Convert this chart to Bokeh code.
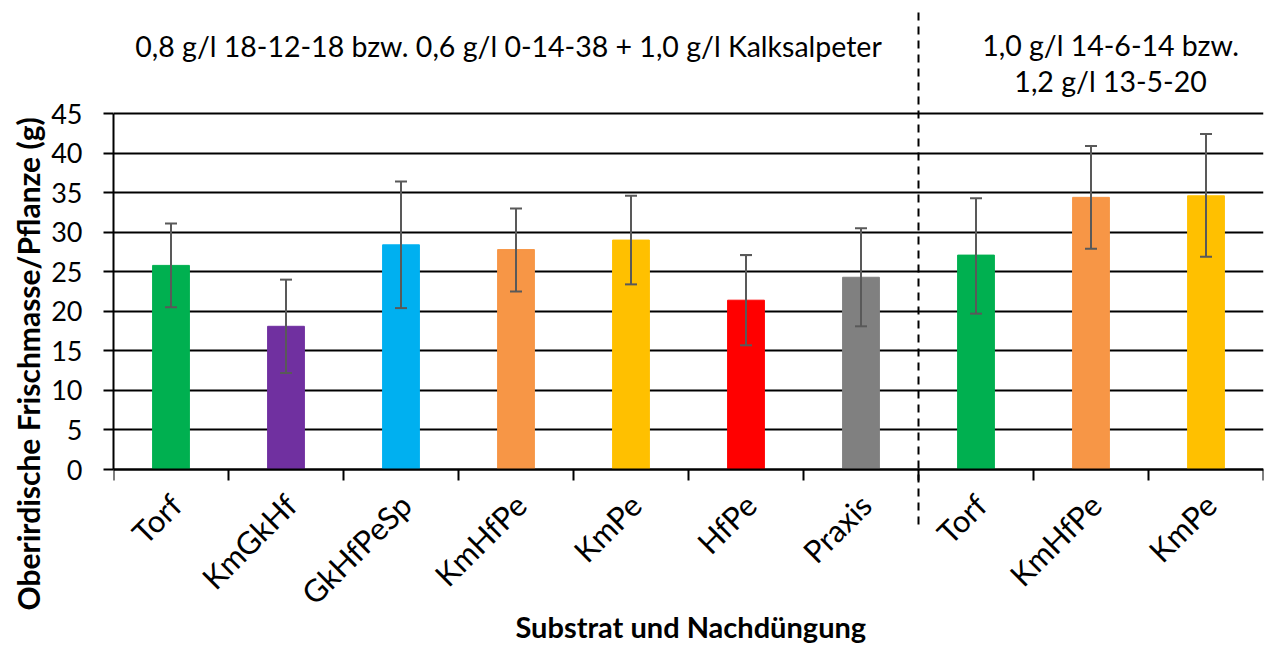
import numpy as np
from bokeh.plotting import figure
from bokeh.models import (ColumnDataSource, Range1d, FixedTicker, Whisker, TeeHead,
                          Title)
from bokeh.core.properties import value
from bokeh.embed import file_html
from bokeh.resources import INLINE

# ---- data ----
categories = ["Torf", "KmGkHf", "GkHfPeSp", "KmHfPe", "KmPe", "HfPe", "Praxis",
              "Torf", "KmHfPe", "KmPe"]
values = [25.8, 18.1, 28.4, 27.8, 29.0, 21.4, 24.3, 27.1, 34.4, 34.6]
err_upper = [31.1, 24.0, 36.4, 33.0, 34.6, 27.1, 30.5, 34.3, 40.9, 42.4]
err_lower = [20.5, 12.2, 20.4, 22.5, 23.4, 15.7, 18.1, 19.7, 27.9, 26.9]
colors = ["#00B050", "#7030A0", "#00B0F0", "#F79646", "#FFC000", "#FF0000",
          "#808080", "#00B050", "#F79646", "#FFC000"]
group_titles = ["0,8 g/l 18-12-18 bzw. 0,6 g/l 0-14-38 + 1,0 g/l Kalksalpeter",
                "1,0 g/l 14-6-14 bzw.", "1,2 g/l 13-5-20"]
x_title = "Substrat und Nachdüngung"
y_title = "Oberirdische Frischmasse/Pflanze (g)"
y_ticks = [0, 5, 10, 15, 20, 25, 30, 35, 40, 45]
n_group1 = 7

FONT = "Lato"
n = len(categories)
centers = [i + 0.5 for i in range(n)]
bounds = [float(i) for i in range(n + 1)]

W, H = 1267, 646
LEFT, RIGHT = 113, 4
# pixel rows of the values 0 and 45 in the reference: 469 and 113
px_per_unit = (469 - 113) / 45.0
y_lo = -(H - 469) / px_per_unit
y_hi = 45 + 113 / px_per_unit

def dy(pixels):
    return pixels / px_per_unit

src = ColumnDataSource(dict(x=centers, top=values, up=err_upper, lo=err_lower,
                            color=colors))

p = figure(width=W, height=H, output_backend="svg", toolbar_location=None,
           x_range=Range1d(0, n), y_range=Range1d(y_lo, y_hi),
           min_border_left=LEFT, min_border_right=RIGHT, min_border_top=0,
           min_border_bottom=0, outline_line_color=None, x_axis_location=None)

# grid
p.xgrid.visible = False
p.ygrid.grid_line_color = "black"
p.ygrid.grid_line_width = 2
p.ygrid.ticker = FixedTicker(ticks=y_ticks)

# bars + error bars
p.vbar(x="x", top="top", width=0.32, color="color", source=src)
w = Whisker(base="x", upper="up", lower="lo", source=src, line_color="#595959",
            line_width=2, level="overlay",
            upper_head=TeeHead(size=12, line_color="#595959", line_width=2),
            lower_head=TeeHead(size=12, line_color="#595959", line_width=2))
p.add_layout(w)

# y axis (library)
yax = p.yaxis[0]
yax.ticker = FixedTicker(ticks=y_ticks)
yax.bounds = (0, 45)
yax.axis_line_color = "black"
yax.axis_line_width = 2
yax.major_tick_line_color = "black"
yax.major_tick_line_width = 2
yax.major_tick_out = 10
yax.major_tick_in = 0
yax.minor_tick_line_color = None
yax.major_label_text_font = FONT
yax.major_label_text_font_size = "27px"
yax.major_label_text_color = "black"
yax.major_label_standoff = 21

# x axis drawn with the same scales: axis line, boundary ticks, rotated labels
p.segment(x0=[0], y0=[0], x1=[n], y1=[0], line_color="black", line_width=2)
p.segment(x0=bounds, y0=[0] * len(bounds), x1=bounds,
          y1=[-dy(11)] * len(bounds), line_color="black", line_width=2)
p.text(x=[c + 0.04 for c in centers], y=[-dy(30)] * n, text=categories,
       angle=np.pi / 4, text_align="right", text_baseline="middle",
       text_font=value(FONT), text_font_size="31px", text_color="black")

# x axis title
p.text(x=[n / 2 + 0.02], y=[-dy(626 - 469)], text=[x_title], text_align="center",
       text_baseline="middle", text_font=value(FONT), text_font_size="29px",
       text_font_style="bold", text_color="black")

# separator between fertiliser groups
p.segment(x0=[n_group1], y0=[45 + dy(113 - 12)], x1=[n_group1],
          y1=[-dy(530 - 469)], line_color="black", line_width=2, line_dash="8 6")

# group titles
p.text(x=[n_group1 / 2 - 0.065], y=[45 + dy(113 - 45)], text=[group_titles[0]],
       text_align="center", text_baseline="middle", text_font=value(FONT),
       text_font_size="28.5px", text_color="black")
p.text(x=[8.67, 8.67], y=[45 + dy(113 - 44), 45 + dy(113 - 80)],
       text=group_titles[1:], text_align="center", text_baseline="middle",
       text_font=value(FONT), text_font_size="28.5px", text_color="black")

# y axis title (vertical, left panel)
p.add_layout(Title(text=y_title, align="left", offset=36, text_font=FONT,
                   text_font_size="30px", text_font_style="bold",
                   text_color="black", standoff=6), "left")

open("out.html", "w").write(file_html(p, INLINE))
